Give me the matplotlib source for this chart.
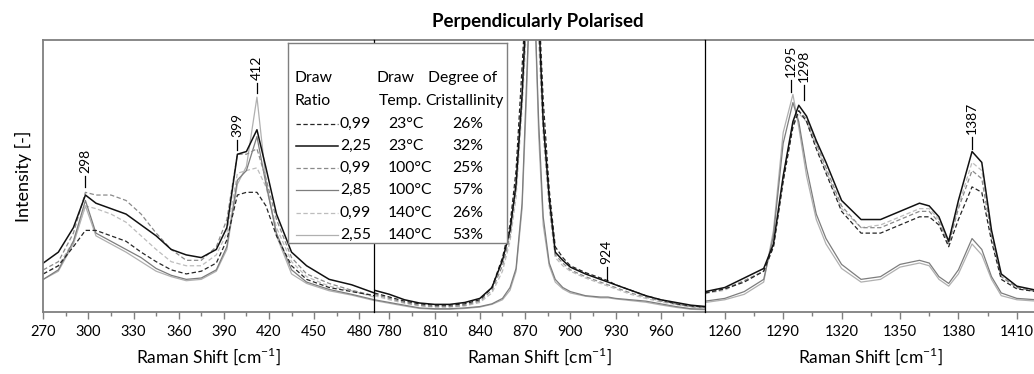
import matplotlib
matplotlib.use("Agg")
import matplotlib.pyplot as plt
from matplotlib.ticker import MultipleLocator

plt.rcParams["font.family"] = ["Lato", "DejaVu Sans"]
plt.rcParams["mathtext.fontset"] = "custom"
plt.rcParams["mathtext.rm"] = "Lato"

# ---- data (intensity normalised to the frame height) ----
draw_ratio = ["0,99", "2,25", "0,99", "2,85", "0,99", "2,55"]
draw_temp = ["23°C", "23°C", "100°C", "100°C", "140°C", "140°C"]
crystallinity = ["26%", "32%", "25%", "57%", "26%", "53%"]

p1_shift = [270, 280, 290, 298, 305, 315, 325, 335, 345, 355, 365, 375,
            385, 392, 399, 405, 412, 418, 425, 435, 445, 460, 475, 490]
p1_s1 = [0.14, 0.17, 0.24, 0.30, 0.30, 0.28, 0.26, 0.22, 0.185, 0.155, 0.14, 0.15,
         0.18, 0.265, 0.43, 0.44, 0.44, 0.39, 0.28, 0.17, 0.12, 0.09, 0.075, 0.06]
p1_s2 = [0.18, 0.22, 0.31, 0.43, 0.40, 0.38, 0.36, 0.32, 0.28, 0.23, 0.21, 0.20,
         0.23, 0.31, 0.58, 0.59, 0.67, 0.53, 0.36, 0.22, 0.17, 0.12, 0.10, 0.07]
p1_s3 = [0.155, 0.185, 0.29, 0.44, 0.43, 0.43, 0.41, 0.36, 0.29, 0.23, 0.19, 0.19,
         0.24, 0.34, 0.58, 0.58, 0.60, 0.49, 0.34, 0.20, 0.14, 0.105, 0.08, 0.06]
p1_s4 = [0.12, 0.155, 0.26, 0.41, 0.29, 0.26, 0.23, 0.20, 0.16, 0.135, 0.12, 0.125,
         0.155, 0.24, 0.485, 0.52, 0.645, 0.47, 0.29, 0.155, 0.11, 0.083, 0.065, 0.045]
p1_s5 = [0.14, 0.17, 0.26, 0.39, 0.38, 0.36, 0.33, 0.28, 0.23, 0.185, 0.17, 0.17,
         0.21, 0.29, 0.51, 0.52, 0.53, 0.46, 0.31, 0.185, 0.13, 0.095, 0.078, 0.055]
p1_s6 = [0.12, 0.15, 0.25, 0.39, 0.28, 0.25, 0.22, 0.185, 0.15, 0.13, 0.115, 0.12,
         0.15, 0.23, 0.47, 0.535, 0.79, 0.485, 0.28, 0.14, 0.105, 0.078, 0.062, 0.042]

p2_shift = [770, 780, 790, 800, 810, 820, 830, 840, 848, 855, 860, 864, 868, 871, 873, 876,
            879, 882, 886, 890, 895, 900, 910, 920, 925, 930, 940, 950, 960, 970, 980, 990]
p2_s1 = [0.07, 0.055, 0.04, 0.03, 0.025, 0.025, 0.03, 0.045, 0.09, 0.20, 0.32, 0.52, 0.90, 1.2, 1.25, 1.25,
         1.15, 0.78, 0.45, 0.24, 0.20, 0.17, 0.145, 0.125, 0.115, 0.10, 0.08, 0.06, 0.045, 0.03, 0.022, 0.018]
p2_s2 = [0.08, 0.065, 0.045, 0.033, 0.028, 0.028, 0.035, 0.05, 0.09, 0.19, 0.30, 0.47, 0.80, 1.15, 1.25, 1.25,
         1.10, 0.70, 0.42, 0.22, 0.19, 0.165, 0.14, 0.12, 0.11, 0.10, 0.08, 0.06, 0.045, 0.035, 0.025, 0.02]
p2_s3 = [0.065, 0.05, 0.035, 0.025, 0.02, 0.02, 0.025, 0.04, 0.08, 0.17, 0.28, 0.45, 0.78, 1.1, 1.25, 1.25,
         1.05, 0.68, 0.40, 0.21, 0.18, 0.155, 0.13, 0.11, 0.10, 0.09, 0.07, 0.055, 0.04, 0.03, 0.02, 0.015]
p2_s4 = [0.045, 0.035, 0.025, 0.015, 0.012, 0.012, 0.015, 0.02, 0.03, 0.05, 0.09, 0.16, 0.40, 0.85, 1.15, 1.2,
         0.70, 0.35, 0.18, 0.12, 0.09, 0.075, 0.06, 0.055, 0.055, 0.05, 0.045, 0.04, 0.03, 0.02, 0.012, 0.01]
p2_s5 = [0.06, 0.045, 0.032, 0.022, 0.018, 0.018, 0.022, 0.035, 0.07, 0.15, 0.26, 0.42, 0.75, 1.05, 1.25, 1.25,
         1.0, 0.65, 0.38, 0.20, 0.17, 0.15, 0.125, 0.105, 0.095, 0.085, 0.065, 0.05, 0.037, 0.027, 0.018, 0.013]
p2_s6 = [0.042, 0.032, 0.022, 0.013, 0.01, 0.01, 0.013, 0.018, 0.028, 0.045, 0.08, 0.15, 0.38, 0.8, 1.15, 1.2,
         0.65, 0.32, 0.17, 0.11, 0.085, 0.07, 0.058, 0.052, 0.052, 0.048, 0.042, 0.036, 0.026, 0.017, 0.01, 0.008]

p3_shift = [1250, 1260, 1270, 1280, 1285, 1290, 1295, 1298, 1302, 1307, 1312, 1320, 1330,
            1340, 1350, 1360, 1365, 1370, 1375, 1380, 1387, 1392, 1397, 1402, 1410, 1420]
p3_s1 = [0.07, 0.085, 0.11, 0.15, 0.24, 0.48, 0.68, 0.74, 0.70, 0.60, 0.51, 0.37, 0.29,
         0.29, 0.32, 0.35, 0.35, 0.32, 0.24, 0.34, 0.46, 0.44, 0.26, 0.12, 0.085, 0.075]
p3_s2 = [0.075, 0.09, 0.125, 0.16, 0.25, 0.50, 0.70, 0.76, 0.72, 0.63, 0.55, 0.41, 0.34,
         0.34, 0.37, 0.40, 0.39, 0.35, 0.26, 0.41, 0.59, 0.55, 0.30, 0.14, 0.095, 0.08]
p3_s3 = [0.07, 0.085, 0.115, 0.15, 0.24, 0.49, 0.69, 0.74, 0.71, 0.62, 0.53, 0.39, 0.31,
         0.31, 0.34, 0.37, 0.37, 0.33, 0.25, 0.38, 0.52, 0.49, 0.28, 0.13, 0.09, 0.075]
p3_s4 = [0.04, 0.05, 0.075, 0.12, 0.28, 0.62, 0.77, 0.70, 0.53, 0.36, 0.27, 0.175, 0.12,
         0.13, 0.175, 0.19, 0.18, 0.13, 0.105, 0.155, 0.27, 0.23, 0.13, 0.07, 0.05, 0.045]
p3_s5 = [0.068, 0.08, 0.115, 0.15, 0.24, 0.48, 0.68, 0.73, 0.70, 0.61, 0.52, 0.38, 0.31,
         0.32, 0.35, 0.38, 0.38, 0.34, 0.25, 0.39, 0.55, 0.52, 0.29, 0.13, 0.09, 0.078]
p3_s6 = [0.035, 0.045, 0.065, 0.11, 0.30, 0.66, 0.80, 0.68, 0.50, 0.34, 0.25, 0.16, 0.11,
         0.12, 0.165, 0.18, 0.17, 0.12, 0.095, 0.14, 0.25, 0.21, 0.12, 0.06, 0.045, 0.04]

# peak labels: (panel, text, x position, tick bottom, tick top)
peak_labels = [(0, "298", 298, 0.46, 0.50), (0, "399", 399, 0.596, 0.632),
               (0, "412", 412, 0.805, 0.842), (1, "924", 924, 0.118, 0.165),
               (2, "1295", 1294.0, 0.81, 0.853), (2, "1298", 1300.8, 0.78, 0.835),
               (2, "1387", 1387, 0.60, 0.643)]

# line styles per sample (colour, dashed?)
colors = ["#262626", "#111111", "#8a8a8a", "#7d7d7d", "#bdbdbd", "#b0b0b0"]
dashed = [True, False, True, False, True, False]
widths = [0.9, 1.1, 0.9, 0.9, 0.9, 0.9]
draw_order = [5, 4, 3, 2, 0, 1]

W, H = 1034, 374
GRAY = "#7f7f7f"
fig = plt.figure(figsize=(W / 100, H / 100), dpi=100)

panels = [
    (p1_shift, [p1_s1, p1_s2, p1_s3, p1_s4, p1_s5, p1_s6], (270, 490)),
    (p2_shift, [p2_s1, p2_s2, p2_s3, p2_s4, p2_s5, p2_s6], (770, 989.5)),
    (p3_shift, [p3_s1, p3_s2, p3_s3, p3_s4, p3_s5, p3_s6], (1250, 1420)),
]

axes = []
x0, ytop, ybot, pw = 43.3, 40, 312, 331
for i, (xs, series, lim) in enumerate(panels):
    ax = fig.add_axes([(x0 + i * pw) / W, 1 - ybot / H, pw / W, (ybot - ytop) / H])
    for k in draw_order:
        ax.plot(xs, series[k], color=colors[k], lw=widths[k],
                ls=(0, (3.5, 2)) if dashed[k] else "-")
    ax.set_xlim(*lim)
    ax.set_ylim(0, 1)
    ax.set_yticks([])
    ax.xaxis.set_major_locator(MultipleLocator(30))
    ax.xaxis.set_minor_locator(MultipleLocator(15))
    ax.tick_params(axis="x", which="major", length=5, width=1, color=GRAY, labelsize=10.5, pad=4)
    ax.tick_params(axis="x", which="minor", length=3, width=1, color=GRAY)
    for side in ["top", "bottom", "right", "left"]:
        ax.spines[side].set_color(GRAY)
        ax.spines[side].set_linewidth(1.3)
    if i > 0:
        ax.spines["left"].set_color("black")
        ax.spines["left"].set_linewidth(0.9)
        ax.spines["left"].set_zorder(5)
    if i < 2:
        ax.spines["right"].set_visible(False)
    ax.set_xlabel(r"Raman Shift [cm$^{\mathregular{-1}}$]", fontsize=12.5, labelpad=5)
    axes.append(ax)

axes[0].set_ylabel("Intensity [-]", fontsize=13, labelpad=8)

for p, txt, w, lo, hi in peak_labels:
    ax = axes[p]
    ax.plot([w, w], [lo, hi], color="black", lw=0.9)
    ax.text(w, hi + 0.012, txt, rotation=90, ha="center", va="bottom", fontsize=10)

fig.text(538 / W, 1 - 21 / H, "Perpendicularly Polarised", ha="center", va="center",
         fontsize=13.5, fontweight="bold")

# legend drawn as a small table on its own axes, in reference pixel units
lx0, lx1, ly0, ly1 = 288, 507, 43, 243
leg = fig.add_axes([lx0 / W, 1 - ly1 / H, (lx1 - lx0) / W, (ly1 - ly0) / H])
leg.set_xlim(lx0, lx1)
leg.set_ylim(ly1, ly0)
leg.set_xticks([])
leg.set_yticks([])
leg.set_facecolor("white")
for s in leg.spines.values():
    s.set_color(GRAY)
    s.set_linewidth(1)

fs = 11.3
leg.text(295, 78, "Draw", fontsize=fs, va="center", ha="left")
leg.text(295, 101, "Ratio", fontsize=fs, va="center", ha="left")
leg.text(395, 78, "Draw", fontsize=fs, va="center", ha="center")
leg.text(400, 101, "Temp.", fontsize=fs, va="center", ha="center")
leg.text(463, 78, "Degree of", fontsize=fs, va="center", ha="center")
leg.text(464, 101, "Cristallinity", fontsize=fs, va="center", ha="center")
row_y = [123.5, 145.5, 168, 190, 212.5, 235]
for k in range(6):
    y = row_y[k]
    leg.plot([296, 338], [y, y], color=colors[k], lw=widths[k],
             ls=(0, (3.5, 2)) if dashed[k] else "-")
    leg.text(340, y, draw_ratio[k], fontsize=fs, va="center", ha="left")
    leg.text(388, y, draw_temp[k], fontsize=fs, va="center", ha="left")
    leg.text(468, y, crystallinity[k], fontsize=fs, va="center", ha="center")

fig.savefig("out.png", dpi=100)
